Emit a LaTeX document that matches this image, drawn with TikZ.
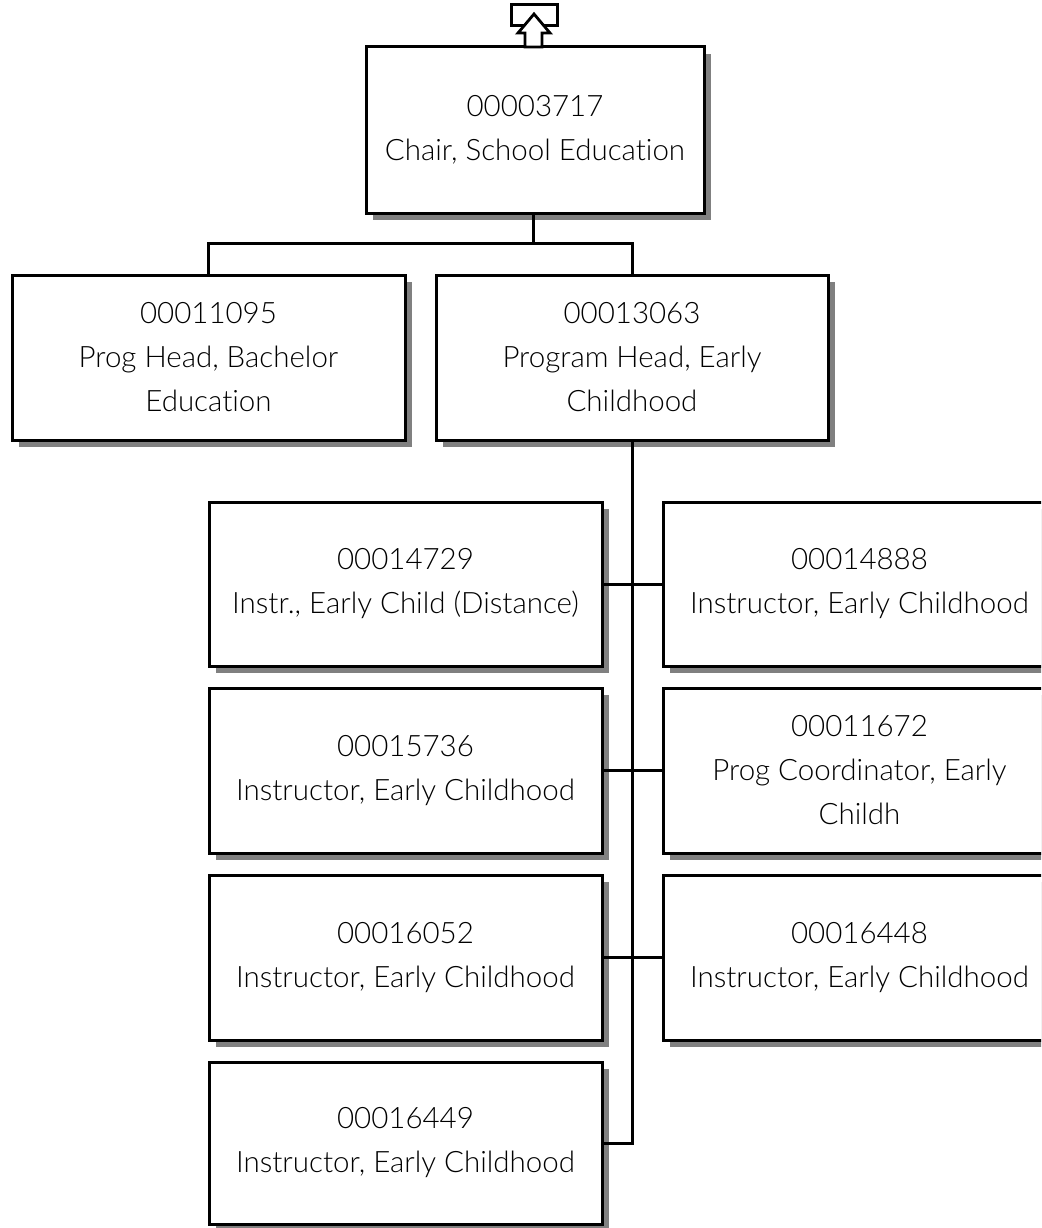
\documentclass[tikz,border=0pt]{standalone}
\usepackage{fontspec}
\setmainfont{Lato Light}[Ligatures=CommonOff]
\usetikzlibrary{shadows}
\tikzset{
  orgbox/.style={draw=black, line width=3pt, fill=white, align=center,
    inner sep=0pt, font=\fontsize{29.5}{44}\selectfont,
    drop shadow={shadow xshift=7pt, shadow yshift=-7pt, fill=black!50, opacity=1}},
  link/.style={draw=black, line width=3pt}
}
\begin{document}
\begin{tikzpicture}[x=1pt,y=-1pt]
\useasboundingbox (0,0) rectangle (1041,1228);
\clip (0,0) rectangle (1041,1228);
% top box
\node[orgbox, minimum width=338pt, minimum height=166pt] (chair) at (535,130) {00003717\\Chair, School Education};
% level 2
\node[orgbox, minimum width=393pt, minimum height=165pt] (bach) at (208.5,357.5) {00011095\\Prog Head, Bachelor\\Education};
\node[orgbox, minimum width=392pt, minimum height=165pt] (ph) at (632,357.5) {00013063\\Program Head, Early\\Childhood};
% rows
\node[orgbox, minimum width=393pt, minimum height=164pt] (l1) at (405.5,584) {00014729\\Instr., Early Child (Distance)};
\node[orgbox, minimum width=393pt, minimum height=164pt] (r1) at (859.5,584) {00014888\\Instructor, Early Childhood};
\node[orgbox, minimum width=393pt, minimum height=165pt] (l2) at (405.5,770.5) {00015736\\Instructor, Early Childhood};
\node[orgbox, minimum width=393pt, minimum height=165pt] (r2) at (859.5,770.5) {00011672\\Prog Coordinator, Early\\Childh};
\node[orgbox, minimum width=393pt, minimum height=165pt] (l3) at (405.5,957.5) {00016052\\Instructor, Early Childhood};
\node[orgbox, minimum width=393pt, minimum height=165pt] (r3) at (859.5,957.5) {00016448\\Instructor, Early Childhood};
\node[orgbox, minimum width=393pt, minimum height=162pt] (l4) at (405.5,1143) {00016449\\Instructor, Early Childhood};
% connectors
\coordinate (j1) at (533,243);
\draw[link] (chair.south -| j1) -- (j1);
\draw[link] (bach.north) |- (j1) -| (ph.north);
\draw[link] (ph.south) |- (l4.east);
\draw[link] (l1.east) -- (r1.west);
\draw[link] (l2.east) -- (r2.west);
\draw[link] (l3.east) -- (r3.west);
% up icon
\draw[line width=3pt, fill=white] (511,5) rectangle (557,26);
\draw[line width=2.8pt, fill=white, line join=miter]
  (534,14) -- (550,33) -- (542,33) -- (542,47) -- (525,47) -- (525,33) -- (518,33) -- cycle;
\end{tikzpicture}
\end{document}
